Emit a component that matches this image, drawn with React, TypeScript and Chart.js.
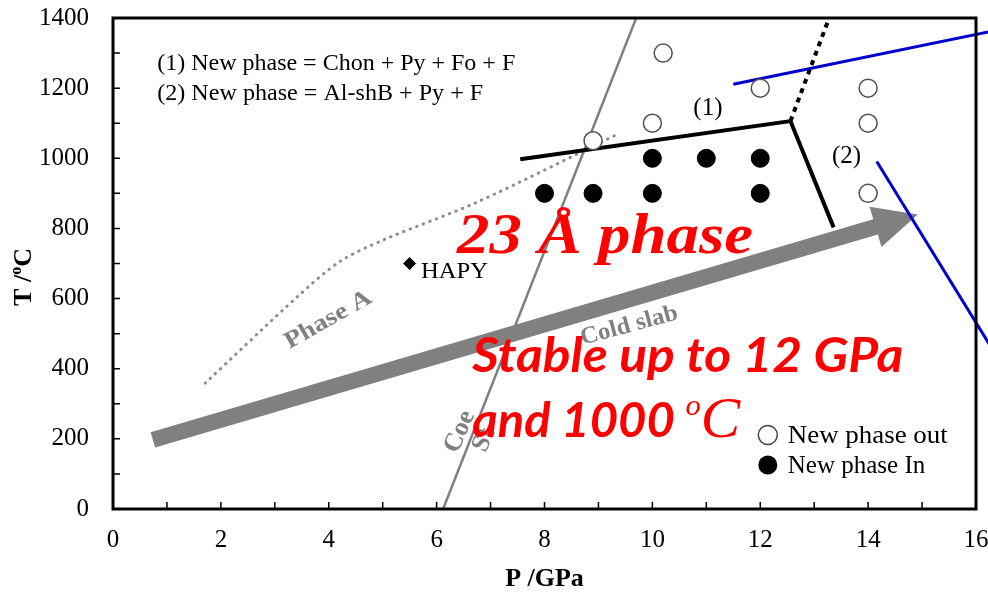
import { useEffect, useRef } from "react";
import { Chart, registerables } from "chart.js";
Chart.register(...registerables);

// ---------- data ----------
const xTickValues = [0, 2, 4, 6, 8, 10, 12, 14, 16];
const yTickValues = [0, 200, 400, 600, 800, 1000, 1200, 1400];
const newPhaseOut = [
  { x: 8.9, y: 1050 }, { x: 10.2, y: 1300 }, { x: 10, y: 1100 }, { x: 12, y: 1200 },
  { x: 14, y: 1200 }, { x: 14, y: 1100 }, { x: 14, y: 900 },
];
const newPhaseIn = [
  { x: 8, y: 900 }, { x: 8.9, y: 900 }, { x: 10, y: 900 }, { x: 12, y: 900 },
  { x: 10, y: 1000 }, { x: 11, y: 1000 }, { x: 12, y: 1000 },
];
const hapy = [{ x: 5.5, y: 700 }];
const coeStLine = [{ x: 6.12, y: 0 }, { x: 9.7, y: 1400 }];
const phaseALine = [
  { x: 1.71, y: 359 }, { x: 3.41, y: 604 }, { x: 4.2, y: 705 },
  { x: 5.01, y: 767 }, { x: 6.75, y: 875 }, { x: 9.4, y: 1072 },
];
const boundarySolid = [{ x: 7.55, y: 997 }, { x: 12.56, y: 1106 }, { x: 13.36, y: 803 }];
const boundaryDotted = [{ x: 12.56, y: 1106 }, { x: 13.27, y: 1397 }];
const blueLine1 = [{ x: 11.5, y: 1211 }, { x: 16.25, y: 1361 }];
const blueLine2 = [{ x: 14.16, y: 991 }, { x: 16.25, y: 469 }];
const coldSlabArrow = [{ x: 0.74, y: 197 }, { x: 14.92, y: 840 }];

const SERIF = "'Liberation Serif', 'Times New Roman', serif";
const SANS = "Lato, 'Open Sans', sans-serif";

type Part = { t: string; font: string; dy?: number };

function drawRich(
  ctx: CanvasRenderingContext2D,
  parts: Part[],
  x: number,
  y: number,
  color: string,
  opts: { rot?: number; align?: "left" | "center" | "right"; baseline?: CanvasTextBaseline; width?: number } = {}
) {
  ctx.save();
  ctx.translate(x, y);
  if (opts.rot) ctx.rotate((opts.rot * Math.PI) / 180);
  ctx.fillStyle = color;
  ctx.textAlign = "left";
  ctx.textBaseline = opts.baseline || "alphabetic";
  let total = 0;
  const ws = parts.map((p) => {
    ctx.font = p.font;
    const w = ctx.measureText(p.t).width;
    total += w;
    return w;
  });
  if (opts.width) ctx.scale(opts.width / total, 1);
  let cx = opts.align === "center" ? -total / 2 : opts.align === "right" ? -total : 0;
  parts.forEach((p, i) => {
    ctx.font = p.font;
    ctx.fillText(p.t, cx, p.dy || 0);
    cx += ws[i];
  });
  ctx.restore();
}

const decorPlugin = {
  id: "decor",
  beforeDatasetsDraw(chart: any) {
    const ctx: CanvasRenderingContext2D = chart.ctx;
    const xs = chart.scales.x, ys = chart.scales.y;
    // cold slab arrow
    const ax = xs.getPixelForValue(coldSlabArrow[0].x), ay = ys.getPixelForValue(coldSlabArrow[0].y);
    const bx = xs.getPixelForValue(coldSlabArrow[1].x), by = ys.getPixelForValue(coldSlabArrow[1].y);
    const len = Math.hypot(bx - ax, by - ay);
    const ux = (bx - ax) / len, uy = (by - ay) / len;
    const nx = -uy, ny = ux;
    const w = 8, hl = 44, hw = 21;
    const cx = bx - ux * hl, cy = by - uy * hl;
    ctx.save();
    ctx.fillStyle = "#808080";
    ctx.beginPath();
    ctx.moveTo(ax + nx * w, ay + ny * w);
    ctx.lineTo(cx + nx * w, cy + ny * w);
    ctx.lineTo(cx + nx * hw, cy + ny * hw);
    ctx.lineTo(bx, by);
    ctx.lineTo(cx - nx * hw, cy - ny * hw);
    ctx.lineTo(cx - nx * w, cy - ny * w);
    ctx.lineTo(ax - nx * w, ay - ny * w);
    ctx.closePath();
    ctx.fill();
    ctx.restore();
  },
  afterDatasetsDraw(chart: any) {
    const ctx: CanvasRenderingContext2D = chart.ctx;
    const xs = chart.scales.x, ys = chart.scales.y;
    const { left, right, top, bottom } = chart.chartArea;
    const X = (v: number) => xs.getPixelForValue(v);
    const Y = (v: number) => ys.getPixelForValue(v);

    // ticks (inward)
    ctx.save();
    ctx.strokeStyle = "#000";
    ctx.lineWidth = 1.5;
    ctx.beginPath();
    for (let v = xs.min; v <= xs.max; v += 1) {
      const px = X(v);
      ctx.moveTo(px, bottom);
      ctx.lineTo(px, bottom - 7);
    }
    for (let v = ys.min; v <= ys.max; v += 100) {
      const py = Y(v);
      ctx.moveTo(left, py);
      ctx.lineTo(left + 7, py);
    }
    ctx.stroke();
    // frame
    ctx.lineWidth = 3;
    ctx.strokeRect(left, top, right - left, bottom - top);
    ctx.restore();

    // reaction labels
    drawRich(ctx, [{ t: "(1) New phase = Chon + Py + Fo + F", font: `24px ${SERIF}` }], X(0.82), Y(1252), "#000", { width: 358 });
    drawRich(ctx, [{ t: "(2) New phase = Al-shB + Py + F", font: `24px ${SERIF}` }], X(0.82), Y(1167), "#000", { width: 326 });
    drawRich(ctx, [{ t: "(1)", font: `25px ${SERIF}` }], X(11.03), Y(1123), "#000", { align: "center" });
    drawRich(ctx, [{ t: "(2)", font: `25px ${SERIF}` }], X(13.6), Y(987), "#000", { align: "center" });
    drawRich(ctx, [{ t: "HAPY", font: `24px ${SERIF}` }], X(5.71), Y(659), "#000", { width: 67 });

    // gray labels
    const G = "#808080";
    drawRich(ctx, [{ t: "Phase A", font: `bold 24px ${SERIF}` }], X(3.99), Y(539), G, { rot: -29.5, align: "center", baseline: "middle", width: 96 });
    drawRich(ctx, [{ t: "Cold slab", font: `bold 24px ${SERIF}` }], X(9.57), Y(522), G, { rot: -15, align: "center", baseline: "middle", width: 100 });
    drawRich(ctx, [{ t: "Coe", font: `bold 26px ${SERIF}` }], X(6.43), Y(220), G, { rot: -66, align: "center", baseline: "middle" });
    drawRich(ctx, [{ t: "St", font: `bold 26px ${SERIF}` }], X(6.88), Y(197), G, { rot: -66, align: "center", baseline: "middle" });

    // red labels
    const R = "#FF0000";
    drawRich(ctx, [{ t: "23 Å phase", font: `italic bold 58px ${SERIF}` }], X(6.38), Y(730), R, { width: 296 });
    drawRich(ctx, [{ t: "Stable up to 12 GPa", font: `italic bold 48px ${SANS}` }], X(6.66), Y(390.6), R, { width: 431 });
    drawRich(
      ctx,
      [
        { t: "and 1000 ", font: `italic bold 48px ${SANS}` },
        { t: "o", font: `italic 30px ${SERIF}`, dy: -22 },
        { t: "C", font: `italic 58px ${SERIF}` },
      ],
      X(6.66), Y(205), R, { width: 268 }
    );

    // legend
    ctx.save();
    ctx.beginPath();
    ctx.arc(X(12.14), Y(211), 9.5, 0, Math.PI * 2);
    ctx.fillStyle = "#fff";
    ctx.fill();
    ctx.lineWidth = 1.5;
    ctx.strokeStyle = "#444";
    ctx.stroke();
    ctx.beginPath();
    ctx.arc(X(12.14), Y(125.5), 9.5, 0, Math.PI * 2);
    ctx.fillStyle = "#000";
    ctx.fill();
    ctx.restore();
    drawRich(ctx, [{ t: "New phase out", font: `25px ${SERIF}` }], X(12.51), Y(188), "#000", { width: 160 });
    drawRich(ctx, [{ t: "New phase In", font: `25px ${SERIF}` }], X(12.51), Y(102.6), "#000");

    // axis titles
    drawRich(ctx, [{ t: "P /GPa", font: `bold 26px ${SERIF}` }], (left + right) / 2, 586, "#000", { align: "center" });
    drawRich(
      ctx,
      [
        { t: "T /", font: `bold 26px ${SERIF}` },
        { t: "o", font: `bold 16px ${SERIF}`, dy: -10 },
        { t: "C", font: `bold 26px ${SERIF}` },
      ],
      31, 277, "#000", { rot: -90, align: "center" }
    );
  },
};

export default function App() {
  const ref = useRef<HTMLCanvasElement>(null);
  useEffect(() => {
    document.body.style.margin = "0";
    const line = (data: any, extra: any) => ({
      data, showLine: true, pointRadius: 0, pointHoverRadius: 0, fill: false, tension: 0, ...extra,
    });
    const chart = new Chart(ref.current!, {
      type: "scatter",
      data: {
        datasets: [
          {
            label: "New phase out", data: newPhaseOut, pointRadius: 9, pointHoverRadius: 9,
            pointBackgroundColor: "#fff", pointBorderColor: "#505050", pointBorderWidth: 1.5,
          },
          {
            label: "New phase In", data: newPhaseIn, pointRadius: 9, pointHoverRadius: 9,
            pointBackgroundColor: "#000", pointBorderColor: "#000", pointBorderWidth: 1,
          },
          {
            label: "HAPY", data: hapy, pointStyle: "rectRot", pointRadius: 6, pointHoverRadius: 6,
            pointBackgroundColor: "#000", pointBorderColor: "#000",
          },
          line(boundarySolid, { label: "boundary", borderColor: "#000", borderWidth: 4, borderJoinStyle: "miter" }),
          line(boundaryDotted, { label: "boundary dotted", borderColor: "#000", borderWidth: 4, borderDash: [5, 5] }),
          line(blueLine1, { label: "blue1", borderColor: "#0000CC", borderWidth: 3, clip: false }),
          line(blueLine2, { label: "blue2", borderColor: "#0000CC", borderWidth: 3, clip: false }),
          line(coeStLine, { label: "Coe-St", borderColor: "#808080", borderWidth: 2.5 }),
          line(phaseALine, { label: "Phase A", borderColor: "#8c8c8c", borderWidth: 3, borderDash: [0.5, 6.5], borderCapStyle: "round", tension: 0.3 }),
        ] as any,
      },
      options: {
        animation: false,
        responsive: false,
        events: [],
        layout: { padding: { left: 0, right: 12, top: 18, bottom: 0 } },
        plugins: { legend: { display: false }, tooltip: { enabled: false } },
        scales: {
          x: {
            type: "linear", min: 0, max: 16,
            afterBuildTicks: (s: any) => { s.ticks = xTickValues.map((v) => ({ value: v })); },
            ticks: { color: "#000", font: { family: SERIF, size: 25 }, padding: 16, maxRotation: 0, autoSkip: false, callback: (v: any) => String(v) },
            grid: { display: false, drawTicks: false },
            border: { display: false },
            afterFit: (s: any) => { s.height = 83; s.paddingLeft = 0; s.paddingRight = 0; },
          },
          y: {
            type: "linear", min: 0, max: 1400,
            afterBuildTicks: (s: any) => { s.ticks = yTickValues.map((v) => ({ value: v })); },
            ticks: { color: "#000", font: { family: SERIF, size: 25 }, padding: 24, autoSkip: false, callback: (v: any) => String(v) },
            grid: { display: false, drawTicks: false },
            border: { display: false },
            afterFit: (s: any) => { s.width = 113; s.paddingTop = 0; s.paddingBottom = 0; },
          },
        },
      } as any,
      plugins: [decorPlugin],
    });
    return () => chart.destroy();
  }, []);
  return (
    <div style={{ position: "absolute", left: 0, top: 0, width: 988, height: 592, background: "#fff" }}>
      <canvas ref={ref} width={988} height={592} style={{ width: 988, height: 592, display: "block" }} />
    </div>
  );
}
